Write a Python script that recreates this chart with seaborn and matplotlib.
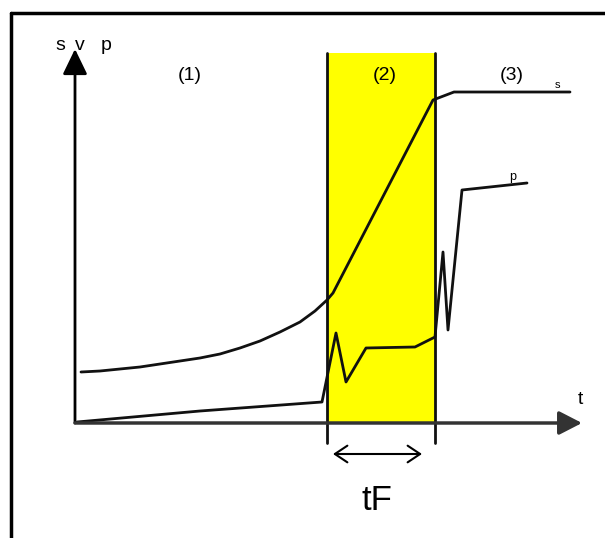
import matplotlib
matplotlib.use("Agg")
import matplotlib.pyplot as plt
from matplotlib.lines import Line2D
import seaborn as sns
import pandas as pd

sns.set_theme(style="white")
plt.rcParams['font.family'] = ['Liberation Sans', 'DejaVu Sans']

# ---- data (schematic units: t along x, value along y) ----
s_t = [6, 25, 45, 65, 85, 105, 125, 145, 165, 185, 205, 225, 240, 252, 258, 358, 379, 495]
s_v = [51, 52, 54, 56, 59, 62, 65, 69, 75, 82, 91, 101, 112, 123, 130, 323, 331, 331]

p_t = [2, 125, 247, 261, 271, 291, 340, 360, 368, 373, 387, 452]
p_v = [1, 12, 21, 90, 41, 75, 76, 86, 171, 93, 233, 240]

band_start, band_end, band_top = 252, 360, 370
phase_labels = ["(1)", "(2)", "(3)"]
phase_pos = [115, 310, 437]

df_s = pd.DataFrame({"t": s_t, "v": s_v})
df_p = pd.DataFrame({"t": p_t, "v": p_v})

fig = plt.figure(figsize=(6.05, 5.38), dpi=100)
ax = fig.add_axes([0, 0, 1, 1])

# yellow phase band
ax.fill_between([band_start, band_end], 0, band_top, color="#FFFF00", lw=0, zorder=1)
for xb in (band_start, band_end):
    ax.plot([xb, xb], [-20, band_top], color="#111111", lw=2, zorder=3)

# curves
sns.lineplot(data=df_s, x="t", y="v", sort=False, estimator=None, color="#111111", lw=2, ax=ax, zorder=4)
sns.lineplot(data=df_p, x="t", y="v", sort=False, estimator=None, color="#111111", lw=2, ax=ax, zorder=4)
ax.set_xlim(-75, 530)
ax.set_ylim(-115, 423)
ax.axis("off")

# axes arrows
ax.annotate("", xy=(0, 374), xytext=(0, 0),
            arrowprops=dict(arrowstyle="-|>,head_length=1.55,head_width=0.75", mutation_scale=10,
                            lw=2, color="black", shrinkA=0, shrinkB=0), zorder=5)
ax.annotate("", xy=(507, 0), xytext=(0, 0),
            arrowprops=dict(arrowstyle="-|>,head_length=1.4,head_width=0.72", mutation_scale=10,
                            lw=2.5, color="#333333", shrinkA=0, shrinkB=0), zorder=5)

# tF double arrow
ax.annotate("", xy=(347, -31), xytext=(258, -31),
            arrowprops=dict(arrowstyle="<->,head_length=0.45,head_width=0.3", mutation_scale=20,
                            lw=1.5, color="black", shrinkA=0, shrinkB=0), zorder=5)

# texts
fs = 14
for lab, xp in zip(["s", "v", "p"], [-15, 5, 31]):
    ax.text(xp, 378, lab, fontsize=fs, ha="center", va="center", color="black")
ax.text(505, 23, "t", fontsize=fs, ha="center", va="center", color="black")
for lab, xp in zip(phase_labels, phase_pos):
    ax.text(xp, 347, lab, fontsize=fs, ha="center", va="center", color="black", zorder=6)
ax.text(482, 338, "s", fontsize=8, ha="center", va="center", color="black")
ax.text(438, 246, "p", fontsize=9, ha="center", va="center", color="black")
ax.text(302, -77, "tF", fontsize=25, ha="center", va="center", color="black")

# image frame (top and left)
fig.add_artist(Line2D([11 / 605, 1], [1 - 13 / 538, 1 - 13 / 538], color="black", lw=2.5))
fig.add_artist(Line2D([11 / 605, 11 / 605], [0, 1 - 13 / 538], color="black", lw=2.5))

fig.savefig("out.png", dpi=100, facecolor="white")
